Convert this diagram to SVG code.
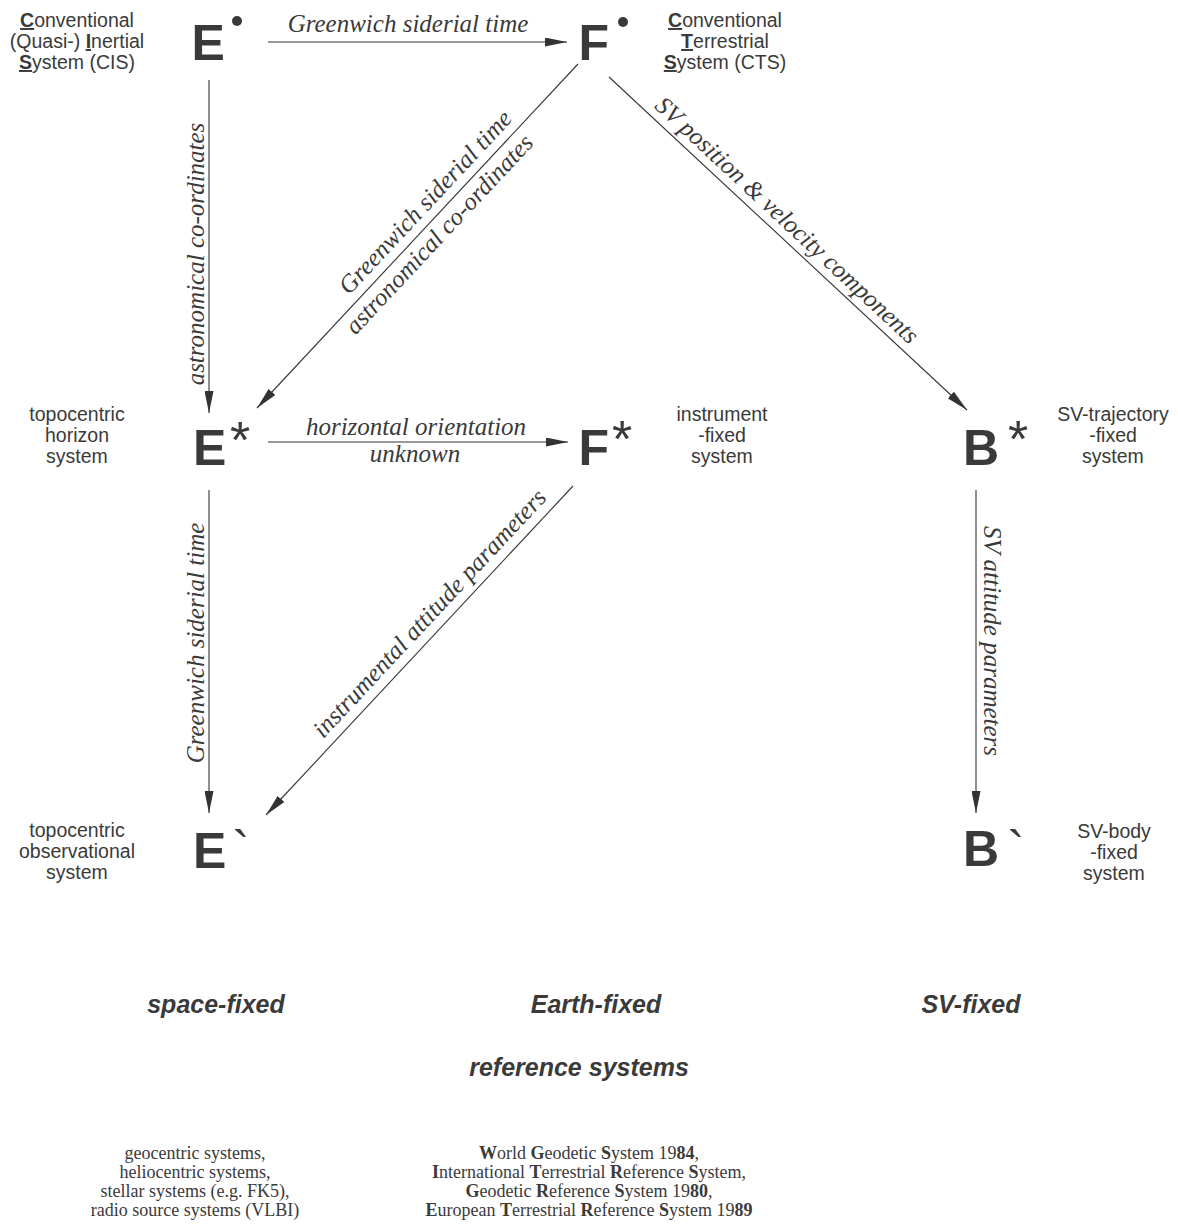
<svg xmlns="http://www.w3.org/2000/svg" width="1178" height="1228" viewBox="0 0 1178 1228">
<defs>
<marker id="ah" markerUnits="userSpaceOnUse" markerWidth="22" markerHeight="9" refX="22" refY="4.5" orient="auto">
<path d="M0,0 L22,4.5 L0,9 z" fill="#333"/>
</marker>
<style>
.big{font-family:"Liberation Sans",Arial,sans-serif;font-weight:bold;font-size:50px;fill:#3a3a3a}
.sup{font-family:"Liberation Sans",Arial,sans-serif;font-size:52px;fill:#3a3a3a;text-anchor:middle}
.side{font-family:"Liberation Sans",Arial,sans-serif;font-size:19.5px;fill:#3a3a3a;text-anchor:middle}
.u{font-weight:bold;text-decoration:underline}
.lbl{font-family:"Liberation Serif","Times New Roman",serif;font-style:italic;font-size:25px;fill:#3a3a3a;text-anchor:middle}
.cat{font-family:"Liberation Sans",Arial,sans-serif;font-weight:bold;font-style:italic;font-size:25px;fill:#3a3a3a;text-anchor:middle}
.list{font-family:"Liberation Serif","Times New Roman",serif;font-size:18px;fill:#3a3a3a;text-anchor:middle}
.b{font-weight:bold}
.c{stroke:#333;stroke-width:1.1;fill:none;marker-end:url(#ah)}
</style>
</defs>
<rect width="1178" height="1228" fill="#fff"/>

<g id="connectors">
<line class="c" x1="268" y1="42" x2="567" y2="42"/>
<line class="c" x1="209" y1="80" x2="209" y2="413"/>
<line class="c" x1="578" y1="64" x2="257" y2="408"/>
<line class="c" x1="609" y1="77" x2="967" y2="410"/>
<line class="c" x1="268" y1="442" x2="568" y2="442"/>
<line class="c" x1="209" y1="490" x2="209" y2="813"/>
<line class="c" x1="573" y1="486" x2="266" y2="815"/>
<line class="c" x1="976" y1="490" x2="976" y2="813"/>
</g>

<g id="connector-labels">
<text class="lbl" x="408" y="32">Greenwich siderial time</text>
<text class="lbl" transform="translate(204,254) rotate(-90)">astronomical co-ordinates</text>
<g transform="translate(433,219) rotate(-46.98)">
<text class="lbl" x="7" y="-9">Greenwich siderial time</text>
<text class="lbl" x="-7" y="23">astronomical co-ordinates</text>
</g>
<g transform="translate(776,232) rotate(42.93)">
<text class="lbl" x="0" y="-8">SV position &amp; velocity components</text>
</g>
<text class="lbl" x="416" y="435">horizontal orientation</text>
<text class="lbl" x="415" y="462">unknown</text>
<text class="lbl" transform="translate(204,643) rotate(-90)">Greenwich siderial time</text>
<g transform="translate(442,625) rotate(-46.98)">
<text class="lbl" x="0" y="-9">instrumental attitude parameters</text>
</g>
<text class="lbl" transform="translate(984,641) rotate(90)">SV attitude parameters</text>
</g>

<g id="node-E-dot">
<text class="big" x="191.5" y="60">E</text>
<circle cx="237" cy="21" r="5" fill="#3a3a3a"/>
<text class="side"><tspan x="77" y="27"><tspan class="u">C</tspan>onventional</tspan><tspan x="77" y="48">(Quasi-) <tspan class="u">I</tspan>nertial</tspan><tspan x="77" y="69"><tspan class="u">S</tspan>ystem (CIS)</tspan></text>
</g>

<g id="node-F-dot">
<text class="big" x="578.5" y="60">F</text>
<circle cx="623" cy="22" r="5" fill="#3a3a3a"/>
<text class="side"><tspan x="725" y="27"><tspan class="u">C</tspan>onventional</tspan><tspan x="725" y="48"><tspan class="u">T</tspan>errestrial</tspan><tspan x="725" y="69"><tspan class="u">S</tspan>ystem (CTS)</tspan></text>
</g>

<g id="node-E-star">
<text class="big" x="193" y="465">E</text>
<text class="sup" x="240" y="458">*</text>
<text class="side"><tspan x="77" y="421">topocentric</tspan><tspan x="77" y="442">horizon</tspan><tspan x="77" y="463">system</tspan></text>
</g>

<g id="node-F-star">
<text class="big" x="578.5" y="465">F</text>
<text class="sup" x="622" y="457">*</text>
<text class="side"><tspan x="722" y="421">instrument</tspan><tspan x="722" y="442">-fixed</tspan><tspan x="722" y="463">system</tspan></text>
</g>

<g id="node-B-star">
<text class="big" x="963" y="465">B</text>
<text class="sup" x="1018" y="457">*</text>
<text class="side"><tspan x="1113" y="421">SV-trajectory</tspan><tspan x="1113" y="442">-fixed</tspan><tspan x="1113" y="463">system</tspan></text>
</g>

<g id="node-E-prime">
<text class="big" x="193" y="868">E</text>
<text class="sup" x="241" y="868">`</text>
<text class="side"><tspan x="77" y="837">topocentric</tspan><tspan x="77" y="858">observational</tspan><tspan x="77" y="879">system</tspan></text>
</g>

<g id="node-B-prime">
<text class="big" x="963" y="866">B</text>
<text class="sup" x="1016" y="868">`</text>
<text class="side"><tspan x="1114" y="838">SV-body</tspan><tspan x="1114" y="859">-fixed</tspan><tspan x="1114" y="880">system</tspan></text>
</g>

<g id="categories">
<text class="cat" x="216" y="1013">space-fixed</text>
<text class="cat" x="596" y="1013">Earth-fixed</text>
<text class="cat" x="971" y="1013">SV-fixed</text>
<text class="cat" x="579" y="1076">reference systems</text>
</g>

<g id="examples">
<text class="list"><tspan x="195" y="1159">geocentric systems,</tspan><tspan x="195" y="1178">heliocentric systems,</tspan><tspan x="195" y="1197">stellar systems (e.g. FK5),</tspan><tspan x="195" y="1216">radio source systems (VLBI)</tspan></text>
<text class="list"><tspan x="589" y="1159"><tspan class="b">W</tspan>orld <tspan class="b">G</tspan>eodetic <tspan class="b">S</tspan>ystem 19<tspan class="b">84</tspan>,</tspan><tspan x="589" y="1178"><tspan class="b">I</tspan>nternational <tspan class="b">T</tspan>errestrial <tspan class="b">R</tspan>eference <tspan class="b">S</tspan>ystem,</tspan><tspan x="589" y="1197"><tspan class="b">G</tspan>eodetic <tspan class="b">R</tspan>eference <tspan class="b">S</tspan>ystem 19<tspan class="b">80</tspan>,</tspan><tspan x="589" y="1216"><tspan class="b">E</tspan>uropean <tspan class="b">T</tspan>errestrial <tspan class="b">R</tspan>eference <tspan class="b">S</tspan>ystem 19<tspan class="b">89</tspan></tspan></text>
</g>
</svg>
